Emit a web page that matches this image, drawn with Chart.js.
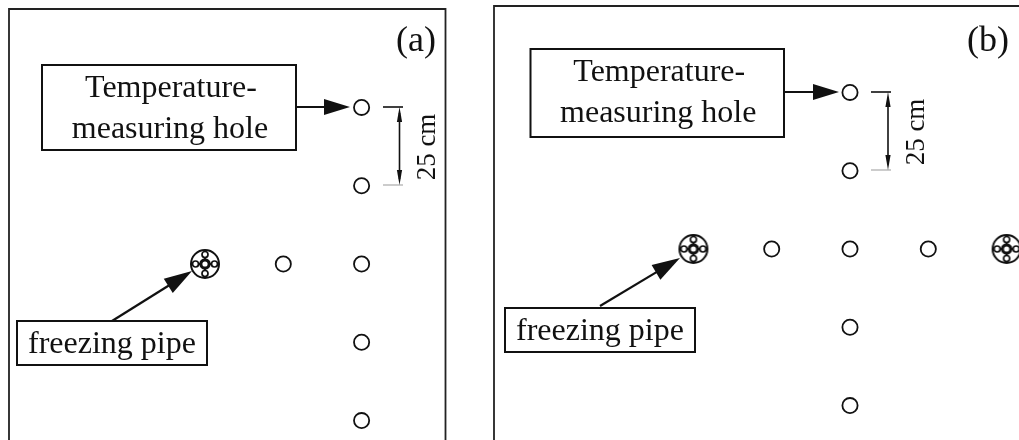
<!DOCTYPE html>
<html>
<head>
<meta charset="utf-8">
<script src="https://cdn.jsdelivr.net/npm/chart.js@4"></script>
<style>
html,body{margin:0;padding:0;background:#fff;overflow:hidden}
#wrap{position:relative;width:1019px;height:440px}
.p{position:absolute;top:0;height:440px}
#pa{left:0;width:470px}
#pb{left:470px;width:549px}
canvas{display:block}
</style>
</head>
<body>
<div id="wrap">
<div class="p" id="pa"><canvas id="ca"></canvas></div>
<div class="p" id="pb"><canvas id="cb"></canvas></div>
</div>
<script>
// Data, in cm from the centre row / reference column
const panelLabels = ["(a)", "(b)"];
const holeXa = [50, 50, 50, 50, 50, 25];
const holeYa = [50, 25, 0, -25, -50, 0];
const pipeXa = [0];
const pipeYa = [0];
const holeXb = [0, 0, 0, 0, 0, -25, 25];
const holeYb = [50, 25, 0, -25, -50, 0, 0];
const pipeXb = [-50, 50];
const pipeYb = [0, 0];
const holeBoxLines = ["Temperature-", "measuring hole"];
const pipeBoxLine = "freezing pipe";
const spacingLabel = "25 cm";

const INK = "#111";
const SERIF = '"Liberation Serif", serif';
const PX = 78.3 / 25;

function pipeMarker() {
  const s = 32, c = document.createElement("canvas");
  c.width = c.height = s;
  const g = c.getContext("2d"), m = s / 2;
  g.strokeStyle = INK;
  g.fillStyle = "#fff";
  const ring = (x, y, r, w) => { g.lineWidth = w; g.beginPath(); g.arc(x, y, r, 0, 7); g.fill(); g.stroke(); };
  ring(m, m, 14, 2);
  g.lineWidth = 2.2;
  g.beginPath();
  g.moveTo(m - 10, m); g.lineTo(m + 10, m);
  g.moveTo(m, m - 10); g.lineTo(m, m + 10);
  g.stroke();
  [[9.5, 0], [-9.5, 0], [0, 9.5], [0, -9.5]].forEach(d => ring(m + d[0], m + d[1], 3, 1.7));
  ring(m, m, 4.2, 3.2);
  return c;
}

function line(g, x1, y1, x2, y2, w, col) {
  g.strokeStyle = col || INK; g.lineWidth = w || 1.6;
  g.beginPath(); g.moveTo(x1, y1); g.lineTo(x2, y2); g.stroke();
}
function head(g, x1, y1, x2, y2, len, half) {
  const a = Math.atan2(y2 - y1, x2 - x1), c = Math.cos(a), s = Math.sin(a);
  const bx = x2 - c * len, by = y2 - s * len;
  g.fillStyle = INK;
  g.beginPath(); g.moveTo(x2, y2);
  g.lineTo(bx - s * half, by + c * half);
  g.lineTo(bx + s * half, by - c * half);
  g.closePath(); g.fill();
}
function box(g, x1, y1, x2, y2) {
  g.strokeStyle = INK; g.lineWidth = 2; g.strokeRect(x1, y1, x2 - x1, y2 - y1);
}
function text(g, s, x, y, size) {
  g.fillStyle = INK; g.font = size + "px " + SERIF;
  g.textAlign = "center"; g.textBaseline = "alphabetic";
  g.fillText(s, x, y);
}

// Layout of the annotations, in canvas pixels of each panel
function annotate(L) {
  return {
    id: "annot",
    afterDatasetsDraw(chart) {
      const g = chart.ctx;
      g.save();
      g.lineCap = "butt";
      const f = L.frame;
      g.strokeStyle = "#222"; g.lineWidth = 1.8;
      g.beginPath();
      g.moveTo(f.l, 440); g.lineTo(f.l, f.t); g.lineTo(f.r, f.t);
      if (f.closed) g.lineTo(f.r, 440);
      g.stroke();
      text(g, L.label, L.labelX, L.labelY, 36);

      const b = L.holeBox, cx = (b.l + b.r) / 2 + 1;
      box(g, b.l, b.t, b.r, b.b);
      text(g, holeBoxLines[0], cx + 1, b.t + 32, 32);
      text(g, holeBoxLines[1], cx, b.t + 72.5, 32);
      line(g, b.r, L.holeArrow.y, L.holeArrow.x - 10, L.holeArrow.y, 2.2);
      head(g, b.r, L.holeArrow.y, L.holeArrow.x, L.holeArrow.y, 26, 8);

      const p = L.pipeBox;
      box(g, p.l, p.t, p.r, p.b);
      text(g, pipeBoxLine, (p.l + p.r) / 2, p.t + 31.5, 32);
      const a = L.pipeArrow;
      line(g, a.x1, a.y1, a.x1 + (a.x2 - a.x1) * 0.8, a.y1 + (a.y2 - a.y1) * 0.8, 2.2);
      head(g, a.x1, a.y1, a.x2, a.y2, 28, 8.5);

      const d = L.dim;
      line(g, d.x0, d.y1, d.x1, d.y1, 1.6);
      line(g, d.x0, d.y2, d.x1, d.y2, 1, "#999");
      line(g, d.xa, d.y1 + 6, d.xa, d.y2 - 6, 1.6);
      head(g, d.xa, d.y2, d.xa, d.y1, 15, 2.6);
      head(g, d.xa, d.y1, d.xa, d.y2, 15, 2.6);
      g.translate(d.xt, (d.y1 + d.y2) / 2 + 1);
      g.rotate(-Math.PI / 2);
      text(g, spacingLabel, 0, 0, 27);
      g.restore();
    }
  };
}

function makeChart(id, holes, pipes, xOrigin, yOrigin, w, layout) {
  return new Chart(document.getElementById(id), {
    type: "scatter",
    data: {
      datasets: [
        { label: "Temperature-measuring hole",
          data: holes[0].map((x, i) => ({ x, y: holes[1][i] })),
          pointStyle: "circle", pointRadius: 7.6, borderWidth: 1.8, clip: false,
          borderColor: INK, backgroundColor: "#fff" },
        { label: "freezing pipe",
          data: pipes[0].map((x, i) => ({ x, y: pipes[1][i] })),
          pointStyle: pipeMarker(), pointRadius: 16, clip: false,
          borderColor: INK, backgroundColor: "#fff" }
      ]
    },
    options: {
      responsive: false, animation: false,
      layout: { padding: 0, autoPadding: false },
      plugins: { legend: { display: false }, tooltip: { enabled: false } },
      scales: {
        x: { type: "linear", display: false, min: -xOrigin / PX, max: (w - xOrigin) / PX },
        y: { type: "linear", display: false, min: -(440 - yOrigin) / PX, max: yOrigin / PX }
      }
    },
    plugins: [annotate(layout)]
  });
}

for (const [id, w] of [["ca", 470], ["cb", 549]]) {
  const c = document.getElementById(id); c.width = w; c.height = 440;
}

makeChart("ca", [holeXa, holeYa], [pipeXa, pipeYa], 205, 264, 470, {
  label: panelLabels[0], labelX: 416, labelY: 51,
  frame: { l: 9, t: 9, r: 445.5, closed: true },
  holeBox: { l: 42, t: 65, r: 296, b: 150 },
  holeArrow: { x: 350, y: 107 },
  pipeBox: { l: 17, t: 321, r: 207, b: 365 },
  pipeArrow: { x1: 112, y1: 321, x2: 192, y2: 271 },
  dim: { x0: 383, x1: 403, xa: 399.5, y1: 107, y2: 185, xt: 435 }
});

makeChart("cb", [holeXb, holeYb], [pipeXb, pipeYb], 380, 249, 549, {
  label: panelLabels[1], labelX: 518, labelY: 51,
  frame: { l: 24, t: 6, r: 549, closed: false },
  holeBox: { l: 60.5, t: 49, r: 314, b: 137 },
  holeArrow: { x: 369, y: 92 },
  pipeBox: { l: 35, t: 308, r: 225, b: 352 },
  pipeArrow: { x1: 130, y1: 306, x2: 210, y2: 258 },
  dim: { x0: 401, x1: 421, xa: 418, y1: 92, y2: 170, xt: 454 }
});
</script>
</body>
</html>
